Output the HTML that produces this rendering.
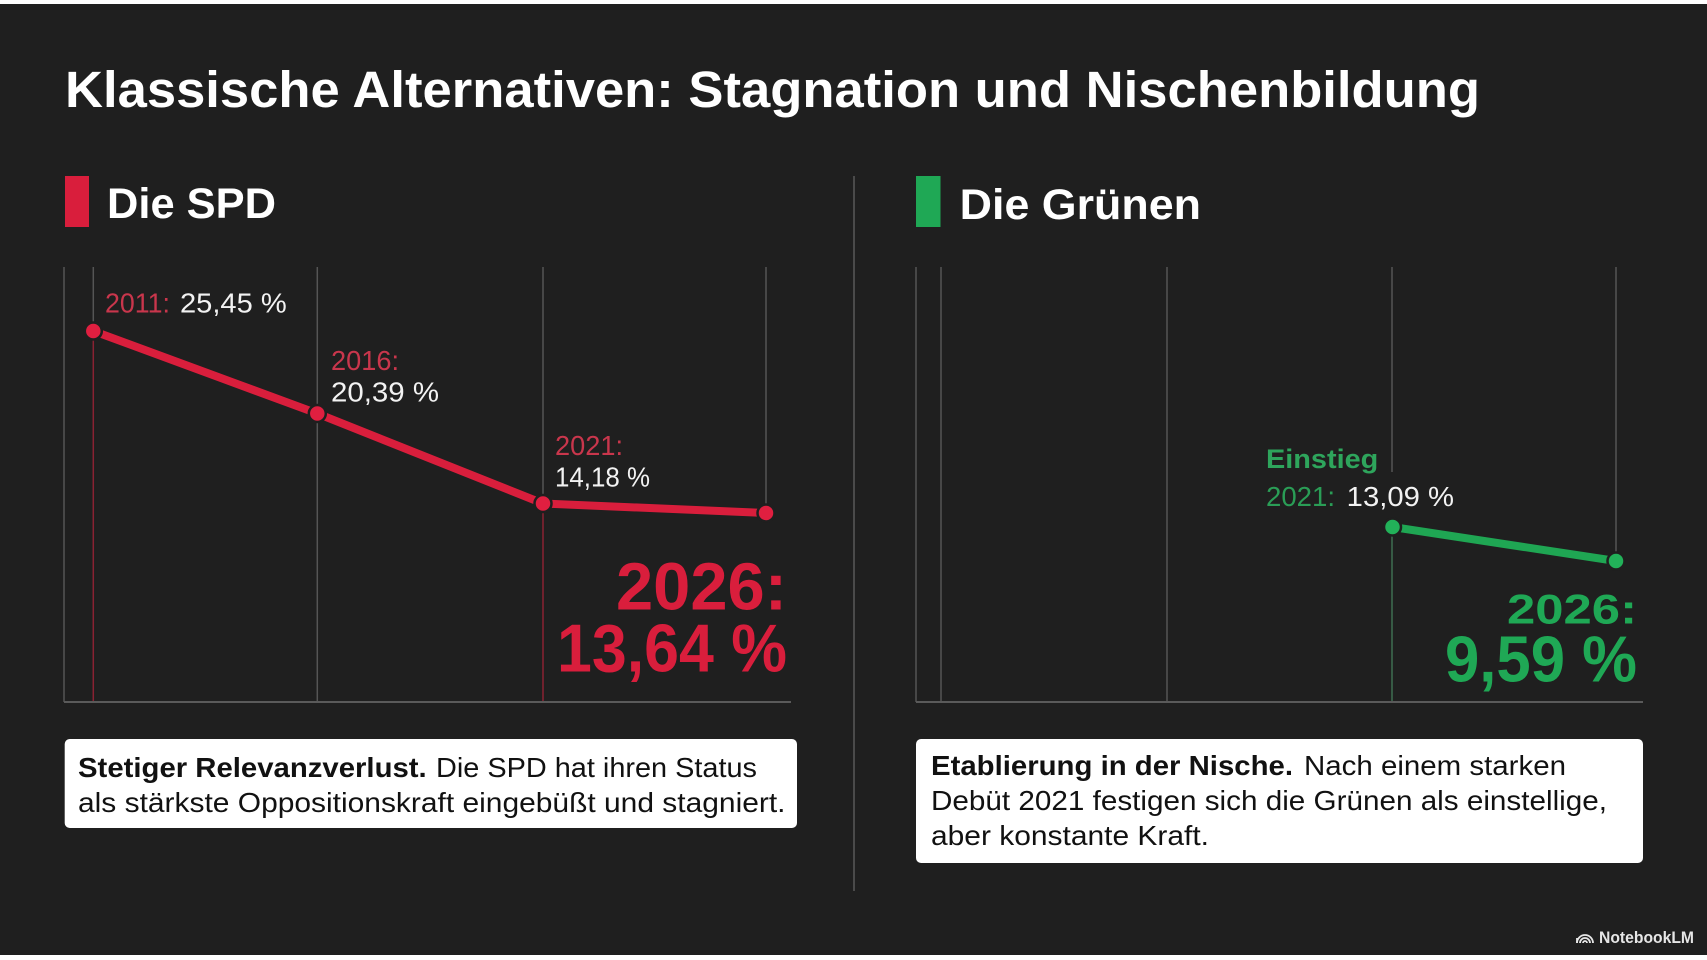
<!DOCTYPE html>
<html>
<head>
<meta charset="utf-8">
<style>
  html,body{margin:0;padding:0;background:#1f1f1f;}
  body{width:1707px;height:960px;overflow:hidden;}
  svg{display:block;}
  text{font-family:"Liberation Sans", Arial, sans-serif;}
</style>
</head>
<body>
<svg width="1707" height="960" viewBox="0 0 1707 960" xmlns="http://www.w3.org/2000/svg">
  <rect x="0" y="0" width="1707" height="960" fill="#1f1f1f"/>
  <rect x="0" y="0" width="1707" height="4" fill="#ffffff"/>
  <rect x="0" y="955" width="1707" height="5" fill="#ffffff"/>

  <!-- Title -->
  <text x="65" y="107" font-size="51" font-weight="bold" fill="#ffffff" textLength="1415" lengthAdjust="spacingAndGlyphs">Klassische Alternativen: Stagnation und Nischenbildung</text>

  <!-- Divider -->
  <line x1="854" y1="176" x2="854" y2="891" stroke="#4a4a4a" stroke-width="2"/>

  <!-- ===== SPD ===== -->
  <rect x="65" y="176" width="24" height="51" fill="#d91e3c"/>
  <text x="107" y="218" font-size="43" font-weight="bold" fill="#ffffff" textLength="169" lengthAdjust="spacingAndGlyphs">Die SPD</text>

  <!-- grid -->
  <g stroke="#555555" stroke-width="1.5">
    <line x1="64" y1="267" x2="64" y2="702"/>
    <line x1="93.3" y1="267" x2="93.3" y2="324"/>
    <line x1="317.3" y1="267" x2="317.3" y2="702"/>
    <line x1="543" y1="267" x2="543" y2="496"/>
    <line x1="766" y1="267" x2="766" y2="506"/>
  </g>
  <g stroke="#8a2232" stroke-width="1.5">
    <line x1="93.3" y1="338" x2="93.3" y2="702"/>
    <line x1="543" y1="510" x2="543" y2="702"/>
  </g>
  <line x1="64" y1="702" x2="791" y2="702" stroke="#5a5a5a" stroke-width="2"/>

  <!-- series -->
  <polyline points="93.3,331 317.3,413.5 543,503.5 766,513" fill="none" stroke="#d91e3c" stroke-width="8" stroke-linejoin="round"/>
  <g fill="#e01f40" stroke="#1f1f1f" stroke-width="2.5">
    <circle cx="93.3" cy="331" r="8.5"/>
    <circle cx="317.3" cy="413.5" r="8.5"/>
    <circle cx="543" cy="503.5" r="8.5"/>
    <circle cx="766" cy="513" r="8.5"/>
  </g>

  <!-- labels -->
  <text x="105" y="312.7" font-size="28" fill="#c9364c" textLength="65" lengthAdjust="spacingAndGlyphs">2011:</text>
  <text x="180" y="312.7" font-size="28" fill="#f2f2f2" textLength="106.7" lengthAdjust="spacingAndGlyphs">25,45 %</text>

  <text x="331" y="370" font-size="28" fill="#c9364c" textLength="68" lengthAdjust="spacingAndGlyphs">2016:</text>
  <text x="331" y="401.7" font-size="28" fill="#f2f2f2" textLength="108" lengthAdjust="spacingAndGlyphs">20,39 %</text>

  <text x="555" y="455" font-size="28" fill="#c9364c" textLength="68" lengthAdjust="spacingAndGlyphs">2021:</text>
  <text x="555" y="486.7" font-size="28" fill="#f2f2f2" textLength="95" lengthAdjust="spacingAndGlyphs">14,18 %</text>

  <text x="787" y="609.3" font-size="67" font-weight="bold" fill="#d91e3c" text-anchor="end" textLength="171" lengthAdjust="spacingAndGlyphs">2026:</text>
  <text x="787" y="671.7" font-size="68" font-weight="bold" fill="#d91e3c" text-anchor="end" textLength="230" lengthAdjust="spacingAndGlyphs">13,64 %</text>

  <!-- SPD box -->
  <rect x="64.7" y="739" width="732.3" height="89" rx="5" ry="5" fill="#ffffff"/>
  <text x="78" y="777" font-size="28" font-weight="bold" fill="#111111" textLength="348.7" lengthAdjust="spacingAndGlyphs">Stetiger Relevanzverlust.</text>
  <text x="436" y="777" font-size="28" fill="#111111" textLength="321" lengthAdjust="spacingAndGlyphs">Die SPD hat ihren Status</text>
  <text x="78" y="812" font-size="28" fill="#111111" textLength="707.5" lengthAdjust="spacingAndGlyphs">als stärkste Oppositionskraft eingebüßt und stagniert.</text>

  <!-- ===== Grüne ===== -->
  <rect x="916" y="176" width="24.5" height="51" fill="#1fa855"/>
  <text x="959.7" y="219" font-size="43" font-weight="bold" fill="#ffffff" textLength="241.3" lengthAdjust="spacingAndGlyphs">Die Grünen</text>

  <g stroke="#555555" stroke-width="1.5">
    <line x1="916" y1="267" x2="916" y2="702"/>
    <line x1="941" y1="267" x2="941" y2="702"/>
    <line x1="1167" y1="267" x2="1167" y2="702"/>
    <line x1="1392" y1="267" x2="1392" y2="472"/>
    <line x1="1616" y1="267" x2="1616" y2="553"/>
  </g>
  <line x1="1392" y1="534" x2="1392" y2="702" stroke="#3f6f50" stroke-width="1.5"/>
  <line x1="916" y1="702" x2="1643" y2="702" stroke="#5a5a5a" stroke-width="2"/>

  <line x1="1392.5" y1="527" x2="1616" y2="561" stroke="#1fa653" stroke-width="8" stroke-linecap="round"/>
  <g fill="#22b159" stroke="#1f1f1f" stroke-width="2.5">
    <circle cx="1392.5" cy="527" r="8.5"/>
    <circle cx="1616" cy="561" r="8.5"/>
  </g>

  <text x="1266" y="468" font-size="27" font-weight="bold" fill="#2ea55c" textLength="112.3" lengthAdjust="spacingAndGlyphs">Einstieg</text>
  <text x="1266" y="506" font-size="28" fill="#2a9d56" textLength="69" lengthAdjust="spacingAndGlyphs">2021:</text>
  <text x="1346.7" y="506" font-size="28" fill="#f2f2f2" textLength="107.3" lengthAdjust="spacingAndGlyphs">13,09 %</text>

  <text x="1637" y="623.3" font-size="42" font-weight="bold" fill="#1fa855" text-anchor="end" textLength="130" lengthAdjust="spacingAndGlyphs">2026:</text>
  <text x="1637" y="681.7" font-size="65" font-weight="bold" fill="#1fa855" text-anchor="end" textLength="192" lengthAdjust="spacingAndGlyphs">9,59 %</text>

  <!-- Grüne box -->
  <rect x="916" y="739" width="727" height="124" rx="5" ry="5" fill="#ffffff"/>
  <text x="931" y="775" font-size="28" font-weight="bold" fill="#111111" textLength="362" lengthAdjust="spacingAndGlyphs">Etablierung in der Nische.</text>
  <text x="1304" y="775" font-size="28" fill="#111111" textLength="262" lengthAdjust="spacingAndGlyphs">Nach einem starken</text>
  <text x="931" y="810" font-size="28" fill="#111111" textLength="676" lengthAdjust="spacingAndGlyphs">Debüt 2021 festigen sich die Grünen als einstellige,</text>
  <text x="931" y="845" font-size="28" fill="#111111" textLength="278" lengthAdjust="spacingAndGlyphs">aber konstante Kraft.</text>

  <!-- NotebookLM logo -->
  <g fill="none" stroke="#e6e6e6" stroke-width="1.8">
    <path d="M1577,943 A8,8 0 0 1 1593,943"/>
    <path d="M1580,943 A5,5 0 0 1 1590,943"/>
    <path d="M1583,943 A2,2 0 0 1 1587,943"/>
    <path d="M1577,943 L1577,938"/>
  </g>
  <text x="1599" y="943" font-size="16.5" font-weight="bold" fill="#e6e6e6" textLength="95" lengthAdjust="spacingAndGlyphs">NotebookLM</text>
</svg>
</body>
</html>
